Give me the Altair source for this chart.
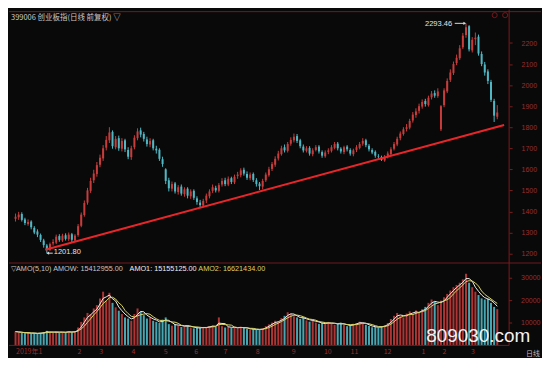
import altair as alt
import pandas as pd

# ---------------- data (2-day candles) ----------------
opens = [1365,1372,1388,1362,1340,1352,1322,1305,1288,1262,
         1238,1218,1248,1252,1283,1262,1287,1268,1292,1262,
         1288,1332,1383,1442,1498,1548,1578,1622,1652,1703,
         1738,1778,1705,1748,1698,1738,1692,1658,1705,1748,
         1785,1768,1742,1718,1738,1698,1693,1648,1600,1548,
         1508,1533,1492,1518,1482,1508,1472,1498,1462,1442,
         1428,1452,1472,1498,1512,1498,1528,1548,1528,1558,
         1538,1568,1572,1598,1578,1558,1578,1548,1532,1518,
         1548,1572,1602,1622,1652,1672,1705,1688,1722,1738,
         1758,1738,1708,1688,1702,1672,1692,1708,1682,1662,
         1683,1688,1702,1722,1698,1682,1708,1692,1672,1692,
         1702,1722,1738,1712,1692,1683,1662,1658,1642,1662,
         1672,1698,1718,1748,1768,1792,1798,1832,1858,1878,
         1898,1925,1905,1942,1962,1948,1790,1905,1970,2025,
         2058,2105,2128,2180,2238,2280,2165,2218,2230,2148,
         2098,2065,2015,1925,1850]
highs = [1390,1398,1396,1370,1362,1358,1330,1315,1295,1270,
         1245,1252,1268,1290,1292,1294,1296,1300,1298,1292,
         1340,1395,1452,1512,1560,1598,1635,1670,1715,1758,
         1800,1785,1758,1760,1748,1745,1705,1712,1762,1795,
         1798,1778,1755,1748,1745,1712,1700,1660,1605,1560,
         1542,1540,1525,1528,1515,1515,1505,1505,1472,1455,
         1460,1485,1505,1528,1522,1535,1558,1560,1566,1565,
         1575,1588,1605,1608,1590,1585,1585,1558,1540,1555,
         1585,1612,1635,1662,1688,1712,1718,1730,1752,1770,
         1768,1745,1718,1710,1710,1700,1715,1715,1690,1690,
         1700,1715,1730,1730,1705,1712,1715,1700,1698,1715,
         1730,1748,1745,1720,1700,1690,1672,1665,1668,1685,
         1705,1730,1755,1780,1800,1815,1840,1872,1890,1912,
         1932,1935,1950,1972,1975,1985,1905,1985,2032,2075,
         2112,2145,2190,2248,2293.46,2285,2228,2250,2240,2160,
         2110,2075,2025,1935,1905]
lows = [1352,1360,1352,1335,1332,1315,1292,1278,1255,1228,
        1201.8,1212,1238,1245,1256,1255,1262,1260,1252,1255,
        1280,1325,1375,1432,1488,1535,1565,1610,1640,1690,
        1725,1698,1695,1688,1685,1682,1648,1645,1695,1738,
        1752,1732,1708,1705,1690,1675,1640,1612,1530,1495,
        1495,1485,1480,1475,1470,1462,1460,1455,1432,1418,
        1420,1440,1462,1488,1490,1490,1518,1520,1520,1530,
        1530,1555,1562,1570,1550,1548,1540,1518,1502,1505,
        1540,1565,1592,1612,1642,1665,1680,1680,1712,1728,
        1725,1700,1680,1680,1665,1662,1685,1675,1655,1655,
        1672,1680,1695,1690,1675,1672,1685,1665,1662,1682,
        1695,1712,1705,1685,1672,1655,1650,1640,1636,1652,
        1665,1690,1710,1738,1760,1780,1790,1822,1845,1865,
        1888,1898,1898,1932,1940,1940,1782,1895,1962,2015,
        2048,2095,2120,2172,2225,2160,2155,2190,2140,2090,
        2045,2005,1920,1825,1838]
closes = [1375,1385,1360,1345,1350,1325,1300,1290,1265,1240,
          1220,1245,1255,1280,1265,1285,1270,1290,1265,1285,
          1330,1385,1440,1500,1545,1580,1620,1655,1700,1740,
          1775,1710,1745,1700,1735,1695,1660,1700,1750,1780,
          1765,1745,1720,1735,1700,1690,1650,1625,1545,1510,
          1530,1495,1515,1485,1505,1475,1495,1465,1445,1430,
          1450,1475,1495,1515,1500,1525,1545,1530,1555,1540,
          1565,1575,1595,1580,1560,1575,1550,1530,1520,1545,
          1575,1600,1625,1650,1675,1700,1690,1720,1740,1755,
          1735,1710,1690,1700,1675,1690,1705,1685,1665,1680,
          1690,1705,1720,1700,1685,1705,1695,1675,1690,1705,
          1720,1735,1715,1695,1680,1665,1660,1645,1660,1675,
          1695,1720,1745,1770,1790,1800,1830,1860,1875,1900,
          1920,1910,1940,1960,1950,1970,1900,1975,2020,2060,
          2100,2130,2175,2235,2275,2170,2215,2225,2150,2100,
          2060,2020,1930,1855,1870]
amount = [6200,5800,5600,5400,5700,5300,5500,5200,5600,6000,
          6500,5600,5800,6200,5700,6000,5800,6300,5900,6100,
          8000,10500,12500,14500,14000,16500,18000,21000,24000,20000,
          23500,19000,17000,15500,14000,12500,12000,11000,14000,16500,
          15000,13500,12000,12500,11000,10500,10000,11500,12500,9500,
          8800,9500,9000,8200,8600,9000,8000,7600,8000,7800,
          8200,8000,8600,9000,8300,12500,8600,8000,8400,7800,
          8100,7600,8300,7900,7300,7100,7400,6900,7100,7600,
          8600,9400,10200,11000,10500,12200,13200,14800,14200,13000,
          12500,11800,12600,11200,10600,11600,10200,9600,10100,9500,
          10500,10000,9200,9600,10100,9100,8600,9000,9700,10000,
          10600,9800,9200,8700,8100,8300,7900,8600,9100,10000,
          11800,13200,14500,13000,12500,14200,15200,14000,15600,14600,
          16200,17200,19000,20500,19500,18000,20000,21500,23000,24500,
          26000,27000,28000,29500,32000,28000,26000,24000,22500,21000,
          20500,20800,19000,17200,16200]

month_pos = [0.15, 19.8, 26.8, 37.1, 47.4, 57.1, 66.5, 76.8, 88.3, 98.6,
             107.1, 117.7, 129.8, 136.5, 145.6]
month_labels = ["2019年1", "2", "3", "4", "5", "6", "7", "8", "9", "10",
                "11", "12", "1", "2", "3"]
price_ticks = [1200, 1300, 1400, 1500, 1600, 1700, 1800, 1900, 2000, 2100, 2200]
vol_ticks = [10000, 20000, 30000]
trend_i = [9.5, 156.2]
trend_p = [1218, 1811]

title_text = "399006 创业板指(日线 前复权) ▽"
amo_texts = ["▽AMO(5,10) AMOW: 15412955.00", "AMO1: 15155125.00", "AMO2: 16621434.00"]

# ---------------- styling ----------------
BG = "#0a0909"
UP = "#c83c3c"
DN = "#4fb8c4"
VUP = "#ad3535"
VDN = "#47a6b1"
AXC = "#9a2e2e"
LINEC = "#6e1a1e"
W, H = 502, 349
FONT = "Liberation Sans"
CJK = "Noto Sans CJK SC"

n = len(closes)
df = pd.DataFrame({"i": list(range(n)), "o": opens, "h": highs, "l": lows,
                   "c": closes, "v": amount})

xscale = alt.Scale(domain=[-0.5, 156.2], nice=False, zero=False)
pscale = alt.Scale(domain=[707, 2358.5], nice=False, zero=False)
vscale = alt.Scale(domain=[-5340, 149980], nice=False, zero=False)

price_axis = alt.Axis(orient="right", values=price_ticks, title=None, grid=False,
                      domain=False, tickSize=3, tickColor="#7a1c1c", format="d",
                      labelColor=AXC, labelFontSize=7, labelFont=FONT,
                      labelPadding=9)


def XQ(f):
    return alt.X(f, type="quantitative", scale=xscale, axis=None)


def PY(f):
    return alt.Y(f, type="quantitative", scale=pscale, axis=price_axis)


def VY(f):
    return alt.Y(f, type="quantitative", scale=vscale, axis=None)


upcond = "datum.c >= datum.o"
ccol = alt.condition(upcond, alt.value(UP), alt.value(DN))
vcol = alt.condition(upcond, alt.value(VUP), alt.value(VDN))

base = alt.Chart(df)
wick = base.mark_rule(strokeWidth=1).encode(x=XQ("i"), y=PY("l"), y2="h:Q", color=ccol)
body = base.mark_bar(width=2).encode(x=XQ("i"), y=PY("o"), y2="c:Q", color=ccol)

trend_df = pd.DataFrame({"ti": trend_i, "tp": trend_p})
trend = alt.Chart(trend_df).mark_line(color="#e8262a", strokeWidth=2).encode(
    x=XQ("ti"), y=PY("tp"))

pk = int(df["h"].idxmax())
lo = int(df["l"].idxmin())
ann_df = pd.DataFrame({
    "ax": [pk, lo], "ay": [highs[pk], lows[lo]],
    "t": [f"{highs[pk]:.2f}", f"{lows[lo]:.2f}"],
})
arrow_df = pd.DataFrame({
    "x1": [pk - 3.6, lo + 0.3], "x2": [pk - 0.4, lo + 1.9],
    "y": [highs[pk], lows[lo]],
    "tip": [pk - 0.4, lo + 0.3], "shape": ["triangle-right", "triangle-left"],
})
ann_peak = alt.Chart(ann_df.iloc[[0]]).mark_text(
    align="right", baseline="middle", dx=-14, dy=1, fontSize=7.5, font=FONT,
    color="#e2e2e2").encode(x=XQ("ax"), y=PY("ay"), text="t:N")
ann_low = alt.Chart(ann_df.iloc[[1]]).mark_text(
    align="left", baseline="middle", dx=7, dy=-1, fontSize=7.5, font=FONT,
    color="#e2e2e2").encode(x=XQ("ax"), y=PY("ay"), text="t:N")
arrows = alt.Chart(arrow_df).mark_rule(color="#d8d8d8", strokeWidth=1).encode(
    x=XQ("x1"), x2="x2:Q", y=PY("y"))
tips = alt.Chart(arrow_df).mark_point(filled=True, size=10, color="#d8d8d8",
                                      opacity=1).encode(
    x=XQ("tip"), y=PY("y"), shape=alt.Shape("shape:N", scale=None))

price_layer = alt.layer(wick, body, trend, arrows, tips, ann_peak, ann_low)

vbars = base.mark_bar(width=2).encode(x=XQ("i"), y=VY("v"), y2=alt.datum(0), color=vcol)
ma_base = base.transform_window(
    m1="mean(v)", frame=[-2, 0], sort=[alt.SortField("i")]
).transform_window(
    m2="mean(v)", frame=[-4, 0], sort=[alt.SortField("i")])
ma1 = ma_base.mark_line(color="#ececec", strokeWidth=1).encode(x=XQ("i"), y=VY("m1"))
ma2 = ma_base.mark_line(color="#d8d46a", strokeWidth=1).encode(x=XQ("i"), y=VY("m2"))
vt_df = pd.DataFrame({"vt": vol_ticks, "lab": [str(v) for v in vol_ticks]})
vlabels = alt.Chart(vt_df).mark_text(align="left", baseline="middle", fontSize=7,
                                     font=FONT, color=AXC).encode(
    x=alt.value(W + 12), y=VY("vt"), text="lab:N")
vticks = alt.Chart(vt_df).mark_rule(color="#7a1c1c").encode(
    x=alt.value(W), x2=alt.value(W + 3), y=VY("vt"))
vol_layer = alt.layer(vbars, ma1, ma2, vticks, vlabels)

one = pd.DataFrame({"k": [0]})
dummy = alt.Chart(one)
top_line = dummy.mark_rule(color=LINEC).encode(x=alt.value(0), x2=alt.value(534), y=alt.value(2))
sep_line = dummy.mark_rule(color=LINEC).encode(x=alt.value(0), x2=alt.value(534), y=alt.value(254.3))
bot_line = dummy.mark_rule(color=LINEC).encode(x=alt.value(0), x2=alt.value(W), y=alt.value(337))
axis_line = dummy.mark_rule(color="#7a1c1c").encode(x=alt.value(W), y=alt.value(0), y2=alt.value(337))
icon1 = dummy.mark_point(shape="circle", filled=False, size=26, strokeWidth=1,
                         color=LINEC, opacity=1).encode(x=alt.value(487.5), y=alt.value(5.5))
icon2 = dummy.mark_point(shape="circle", filled=False, size=26, strokeWidth=1,
                         color=LINEC, opacity=1).encode(x=alt.value(498), y=alt.value(5.5))

title = dummy.mark_text(text=title_text, align="left", baseline="middle", fontSize=7.5,
                        font=CJK, color="#c8c8c8").encode(x=alt.value(2), y=alt.value(8.5))
amo1 = dummy.mark_text(text=amo_texts[0], align="left", baseline="middle", fontSize=7.3,
                       font=FONT, color="#c4c4c4").encode(x=alt.value(2), y=alt.value(260))
amo2 = dummy.mark_text(text=amo_texts[1], align="left", baseline="middle", fontSize=7.3,
                       font=FONT, color="#eeeeee").encode(x=alt.value(121), y=alt.value(260))
amo3 = dummy.mark_text(text=amo_texts[2], align="left", baseline="middle", fontSize=7.3,
                       font=FONT, color="#d8d46a").encode(x=alt.value(190), y=alt.value(260))

m_df = pd.DataFrame({"mp": month_pos, "ml": month_labels})
months = alt.Chart(m_df).mark_text(align="left", baseline="middle", fontSize=7,
                                   font=CJK, color=AXC).encode(
    x=XQ("mp"), y=alt.value(344), text="ml:N")
rixian = dummy.mark_text(text="日线", align="left", baseline="middle", fontSize=7,
                         font=CJK, color="#bdbdbd").encode(x=alt.value(519), y=alt.value(345.5))
watermark = dummy.mark_text(text="809030.com", align="center", baseline="middle",
                            fontSize=19, font=FONT, color="#f2f2f2").encode(
    x=alt.value(471), y=alt.value(327.5))

overlay = alt.layer(top_line, sep_line, bot_line, axis_line, icon1, icon2, title,
                    amo1, amo2, amo3, months, rixian, watermark)

chart = alt.layer(price_layer, vol_layer, overlay).resolve_scale(
    y="independent"
).properties(
    width=W, height=H, padding=0, background=BG
).configure_view(stroke=None)

chart.save("out.html", embed_options={"renderer": "svg", "actions": False})
